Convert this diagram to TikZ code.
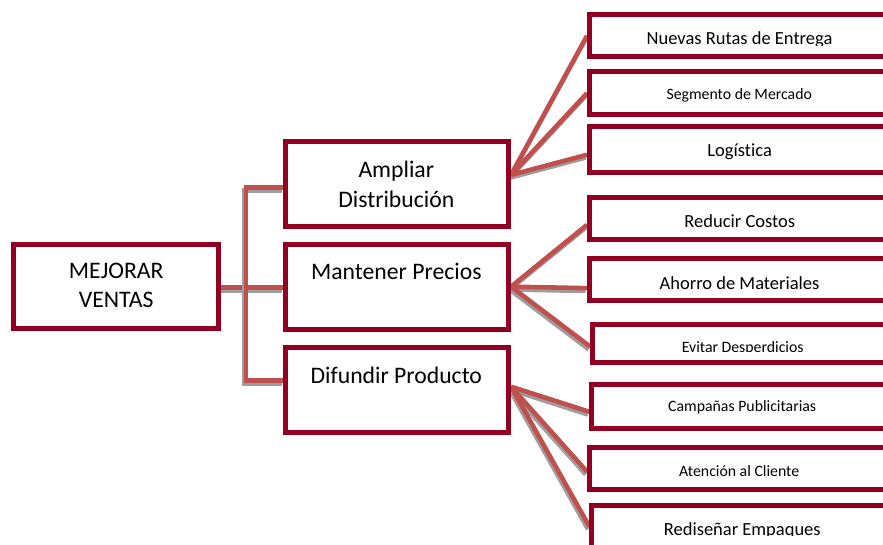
\documentclass[tikz,border=0pt]{standalone}
\usepackage{fontspec}
\setmainfont{Carlito}[Ligatures={NoCommon}]
\usetikzlibrary{calc,backgrounds}

\definecolor{boxred}{RGB}{145,0,35}
\definecolor{linkred}{RGB}{192,80,77}
\definecolor{linkshadow}{RGB}{158,158,158}

\tikzset{
  box/.style={draw=boxred, line width=5pt, fill=white, rectangle, inner sep=0pt},
  link/.style={draw=linkred, line width=4.6pt,
    preaction={draw=linkshadow, line width=4.6pt,
      transform canvas={xshift=-1.3pt, yshift=-2.8pt}}},
  bigtext/.style={font=\fontsize{23.7}{28}\selectfont, anchor=base, inner sep=0pt},
  midtext/.style={font=\fontsize{18.5}{22}\selectfont, anchor=base, inner sep=0pt},
  smalltext/.style={font=\fontsize{15.8}{19}\selectfont, anchor=base, inner sep=0pt},
}

% \boxat{name}{left}{top}{right}{bottom}, outer edges of the border
\newcommand{\boxat}[5]{%
  \node[box, minimum width={#4-#2-5}, minimum height={#5-#3-5}]
    (#1) at ({(#2+#4)/2},{(#3+#5)/2}) {};}

\begin{document}
\begin{tikzpicture}[x=1pt,y=-1pt]
\useasboundingbox (0,0) rectangle (883,545);

% boxes
\boxat{root}{11}{241.7}{221}{331}
\boxat{ampl}{283}{139.5}{511}{229.5}
\boxat{mant}{283}{241.7}{511}{331.7}
\boxat{difu}{283}{345}{511}{435}
\boxat{rutas}{587}{12.5}{892}{59.3}
\boxat{segm}{587}{69.3}{892}{117}
\boxat{logi}{587}{124.5}{892}{175}
\boxat{cost}{587}{195}{892}{241.7}
\boxat{ahor}{587}{256}{892}{303.3}
\boxat{desp}{590}{322}{895}{365}
\boxat{camp}{589.3}{381.5}{894.5}{431}
\boxat{aten}{587}{445}{892}{492.3}
\boxat{empa}{589.3}{502.5}{894.5}{549.5}

% connectors
\begin{pgfonlayer}{background}
  \coordinate (trunk) at (246,187.5);
  \draw[link] ($(root.east)+(0,1.2)$) coordinate (rootout) -- (rootout -| mant.west);
  \draw[link] ($(ampl.west)+(0,3)$) -- (trunk) |- ($(difu.west)+(0,-9.3)$);

  \coordinate (amplout) at ($(ampl.east)+(0,-9.5)$);
  \coordinate (mantout) at (mant.east);
  \coordinate (difuout) at ($(difu.east)+(0,-3.3)$);

  \draw[link] (amplout) -- (rutas.west);
  \draw[link] (amplout) -- (segm.west);
  \draw[link] (amplout) -- ($(logi.west)+(0,5)$);

  \draw[link] (mantout) -- ($(cost.west)+(0,6.5)$);
  \draw[link] (mantout) -- ($(ahor.west)+(0,8.5)$);
  \draw[link] (mantout) -- ($(desp.west)+(0,3)$);

  \draw[link] (difuout) -- ($(camp.west)+(0,5.5)$);
  \draw[link] (difuout) -- ($(aten.west)+(0,3)$);
  \draw[link] (difuout) -- ($(empa.west)+(0,0.5)$);
\end{pgfonlayer}

% labels
\node[bigtext] (t-root1) at (116.2,279) {MEJORAR};
\node[bigtext] (t-root2) at (116.2,307.3) {VENTAS};
\node[bigtext] (t-ampl1) at (396.3,177.7) {Ampliar};
\node[bigtext] (t-ampl2) at (396.3,207.3) {Distribución};
\node[bigtext] (t-mant) at (396.3,279.3) {Mantener Precios};
\node[bigtext] (t-difu) at (396.3,383.3) {Difundir Producto};

\begin{scope}
  \clip (590,15) rectangle (889,45.3);
  \node[midtext] (t-rutas) at (739.5,45) {Nuevas Rutas de Entrega};
\end{scope}
\node[smalltext] (t-segm) at (739.2,100) {Segmento de Mercado};
\node[midtext] (t-logi) at (739.7,156.7) {Logística};
\node[midtext] (t-cost) at (739.8,227.3) {Reducir Costos};
\node[midtext] (t-ahor) at (739.5,289.3) {Ahorro de Materiales};
\begin{scope}
  \clip (593,325) rectangle (892,351.3);
  \node[smalltext] (t-desp) at (742.7,352) {Evitar Desperdicios};
\end{scope}
\node[smalltext] (t-camp) at (742.2,411.7) {Campañas Publicitarias};
\node[smalltext] (t-aten) at (739.2,476) {Atención al Cliente};
\begin{scope}
  \clip (592,505) rectangle (891,535.3);
  \node[midtext] (t-empa) at (742.3,535.2) {Rediseñar Empaques};
\end{scope}
\end{tikzpicture}
\end{document}
